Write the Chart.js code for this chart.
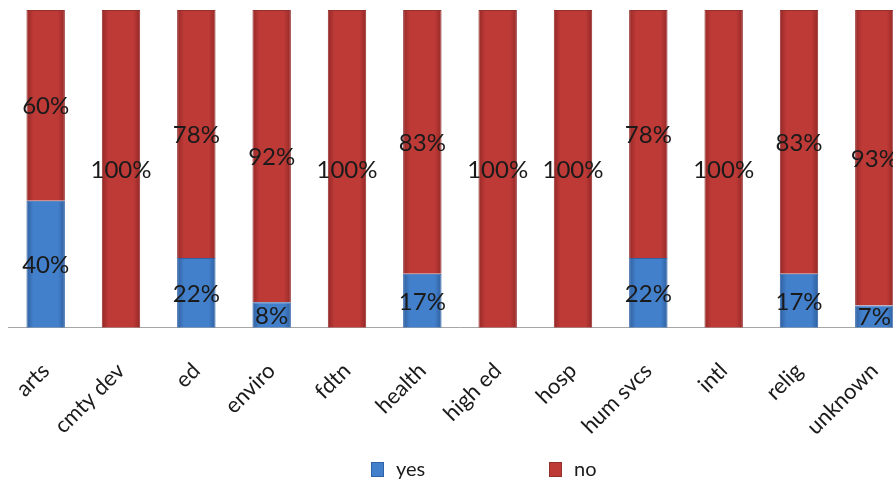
<!DOCTYPE html>
<html lang="en">
  <head>
    <meta charset="UTF-8" />
    <script src="https://cdn.jsdelivr.net/npm/chart.js"></script>
    <title>yes / no by sector</title>
    <style>
      html, body { margin: 0; padding: 0; background: #fff; overflow: hidden; }
      #wrap { position: relative; width: 912px; height: 481px; }
      #legend { position: absolute; top: 456px; left: 0; width: 893px; height: 24px;
        font-family: Lato, 'Open Sans', sans-serif; font-size: 20px; color: #1a1a1a; }
      #legend span.item { position: absolute; top: 0; line-height: 24px; }
      #legend i { display: inline-block; width: 11px; height: 13px; margin-right: 12px; vertical-align: -1px; }
    </style>
  </head>
  <body>
    <div id="wrap">
      <canvas id="sectorChart"></canvas>
      <div id="legend"></div>
    </div>

    <script>
      const categories = ["arts", "cmty dev", "ed", "enviro", "fdtn", "health", "high ed", "hosp", "hum svcs", "intl", "relig", "unknown"];
      const yesValues = [40, 0, 22, 8, 0, 17, 0, 0, 22, 0, 17, 7];
      const noValues = [60, 100, 78, 92, 100, 83, 100, 100, 78, 100, 83, 93];
      const seriesNames = ["yes", "no"];

      const fontFamily = "Lato, 'Open Sans', sans-serif";
      const barPct = 0.51;

      // darker at the left/right edge of each bar, like the office bevel look
      function shaded(base, edge) {
        return (context) => {
          const chart = context.chart;
          const sc = chart.scales && chart.scales.x;
          if (!sc || !chart.chartArea || context.dataIndex === undefined) return base;
          const cx = sc.getPixelForValue(context.dataIndex);
          const half = (sc.width / categories.length) * barPct / 2;
          const g = chart.ctx.createLinearGradient(cx - half, 0, cx + half, 0);
          g.addColorStop(0, edge);
          g.addColorStop(0.18, base);
          g.addColorStop(0.82, base);
          g.addColorStop(1, edge);
          return g;
        };
      }

      // % text in the middle of each segment
      const segmentLabels = {
        id: "segmentLabels",
        afterDatasetsDraw(chart) {
          const ctx = chart.ctx;
          ctx.save();
          ctx.font = "24px " + fontFamily;
          ctx.fillStyle = "#1a1a1a";
          ctx.textAlign = "center";
          ctx.textBaseline = "middle";
          chart.data.datasets.forEach((ds, i) => {
            const meta = chart.getDatasetMeta(i);
            meta.data.forEach((bar, j) => {
              const v = ds.data[j];
              if (!v) return;
              ctx.fillText(v + "%", bar.x, (bar.y + bar.base) / 2 + 1);
            });
          });
          ctx.restore();
        },
      };

      const chart = new Chart(document.getElementById("sectorChart"), {
        type: "bar",
        data: {
          labels: categories,
          datasets: [
            {
              label: seriesNames[0],
              data: yesValues,
              backgroundColor: shaded("#4380cb", "#2e5f9f"),
              borderColor: "#2f62a6",
              borderWidth: 1,
              categoryPercentage: 1,
              barPercentage: barPct,
            },
            {
              label: seriesNames[1],
              data: noValues,
              backgroundColor: shaded("#bd3a37", "#962826"),
              borderColor: "#93302e",
              borderWidth: 1,
              categoryPercentage: 1,
              barPercentage: barPct,
            },
          ],
        },
        options: {
          responsive: true,
          maintainAspectRatio: false,
          animation: false,
          layout: { padding: { left: 8, top: 10, right: 0, bottom: 11 } },
          scales: {
            x: {
              stacked: true,
              grid: { display: false, drawTicks: false },
              border: { display: true, color: "#a6a6a6", width: 1 },
              ticks: {
                autoSkip: false,
                maxRotation: 45,
                minRotation: 45,
                padding: 30,
                color: "#1a1a1a",
                font: { family: fontFamily, size: 22 },
              },
              // the rotated labels fit inside their own columns, no side padding wanted
              afterFit(scale) {
                scale.paddingLeft = 0;
                scale.paddingRight = 0;
              },
            },
            y: {
              stacked: true,
              display: false,
              min: 0,
              max: 100,
            },
          },
          plugins: {
            legend: { display: false },
            tooltip: { enabled: false },
          },
        },
        plugins: [segmentLabels],
      });

      // legend below the plot, spaced like the original
      const legendX = [371, 549];
      const legendColors = [["#4380cb", "#2f62a6"], ["#bd3a37", "#93302e"]];
      const legendEl = document.getElementById("legend");
      chart.data.datasets.forEach((ds, i) => {
        const item = document.createElement("span");
        item.className = "item";
        item.style.left = legendX[i] + "px";
        const box = document.createElement("i");
        box.style.background = legendColors[i][0];
        box.style.border = "1px solid " + legendColors[i][1];
        item.appendChild(box);
        item.appendChild(document.createTextNode(ds.label));
        legendEl.appendChild(item);
      });
    </script>
  </body>
</html>
